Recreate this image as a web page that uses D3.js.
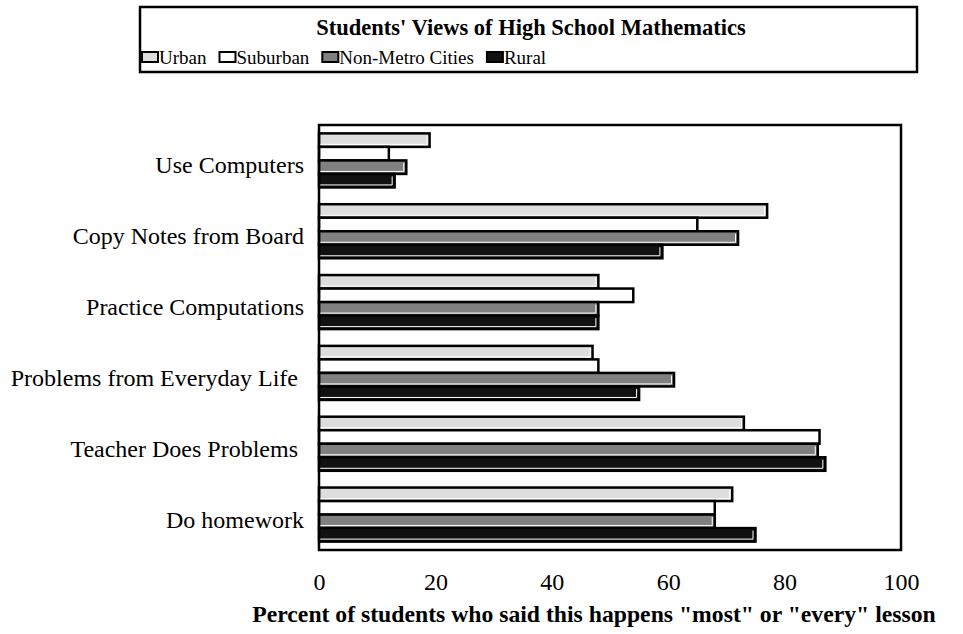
<!DOCTYPE html>
<html>
<head>
<meta charset="utf-8">
<script src="https://cdn.jsdelivr.net/npm/d3@7/dist/d3.min.js"></script>
<style>
  html, body { margin: 0; padding: 0; background: #fff; }
  svg { display: block; font-family: "Liberation Serif", "Times New Roman", serif; }
  text { white-space: pre; }
</style>
</head>
<body>
<svg id="chart" width="963" height="634"></svg>
<script>
const chartTitle = "Students' Views of High School Mathematics";
const axisTitle = 'Percent of students who said this happens "most" or "every" lesson';
const categories = ["Use Computers", "Copy Notes from Board", "Practice Computations",
  "Problems from Everyday Life ", "Teacher Does Problems ", "Do homework"];
const seriesNames = ["Urban", "Suburban", "Non-Metro Cities", "Rural"];
const urban    = [19, 77, 48, 47, 73, 71];
const suburban = [12, 65, 54, 48, 86, 68];
const nonMetro = [15, 72, 48, 61, 85.7, 68];
const rural    = [13, 59, 48, 55, 87, 75];
const tickValues = [0, 20, 40, 60, 80, 100];
const seriesColors = ["#dddddd", "#ffffff", "#808080", "#111111"];

const seriesValues = [urban, suburban, nonMetro, rural];
const svg = d3.select("#chart");

const plot = { left: 319, right: 901, top: 125, bottom: 550 };

const x = d3.scaleLinear().domain([0, 100]).range([plot.left, plot.right]);
const y0 = d3.scaleBand().domain(categories).range([plot.top, plot.bottom]).padding(0);
const y1 = d3.scaleBand().domain(seriesNames).range([0, y0.bandwidth()])
  .paddingInner(0).paddingOuter(0.62);

svg.append("rect")
  .attr("x", plot.left).attr("y", plot.top)
  .attr("width", plot.right - plot.left).attr("height", plot.bottom - plot.top)
  .attr("fill", "#fff");

const rows = [];
categories.forEach((c, i) => {
  seriesNames.forEach((s, j) => {
    rows.push({ cat: c, series: s, si: j, value: seriesValues[j][i] });
  });
});

const gBars = svg.append("g");
seriesNames.forEach((s, j) => {
  const data = rows.filter(d => d.si === j);
  const g = gBars.append("g");
  g.selectAll("rect").data(data).join("rect")
    .attr("x", x(0))
    .attr("y", d => y0(d.cat) + y1(d.series))
    .attr("width", d => x(d.value) - x(0))
    .attr("height", y1.bandwidth())
    .attr("fill", seriesColors[j])
    .attr("stroke", "#000")
    .attr("stroke-width", 2.5);
  g.selectAll("path").data(data).join("path")
    .attr("d", d => {
      const xr = x(d.value) - 2.5, yt = y0(d.cat) + y1(d.series) + 2.5,
            yb = y0(d.cat) + y1(d.series) + y1.bandwidth() - 2.5;
      return `M${x(0) + 1},${yb}H${xr}V${yt}`;
    })
    .attr("fill", "none")
    .attr("stroke", "#fff")
    .attr("stroke-width", 1);
});

svg.append("rect")
  .attr("x", plot.left).attr("y", plot.top)
  .attr("width", plot.right - plot.left).attr("height", plot.bottom - plot.top)
  .attr("fill", "none").attr("stroke", "#000").attr("stroke-width", 2.5);

svg.append("g").selectAll("text").data(categories).join("text")
  .attr("x", 304)
  .attr("y", d => y0(d) + y0.bandwidth() / 2 + 13)
  .attr("text-anchor", "end")
  .attr("font-size", 24)
  .attr("fill", "#000")
  .text(d => d);

const xAxis = d3.axisBottom(x).tickValues(tickValues).tickSize(0).tickPadding(0)
  .tickFormat(d3.format("d"));
const gx = svg.append("g").attr("transform", `translate(0,${plot.bottom})`).call(xAxis);
gx.select(".domain").remove();
gx.selectAll("text")
  .attr("font-family", "Liberation Serif, serif")
  .attr("font-size", 24)
  .attr("fill", "#000")
  .attr("dy", null)
  .attr("y", 40);

svg.append("text")
  .attr("x", 594).attr("y", 622)
  .attr("text-anchor", "middle")
  .attr("font-size", 23.7)
  .attr("font-weight", "bold")
  .text(axisTitle);

const lg = { left: 140, right: 917, top: 7, bottom: 72 };
svg.append("rect")
  .attr("x", lg.left).attr("y", lg.top)
  .attr("width", lg.right - lg.left).attr("height", lg.bottom - lg.top)
  .attr("fill", "#fff").attr("stroke", "#000").attr("stroke-width", 2.5);
svg.append("text")
  .attr("x", 531).attr("y", 35)
  .attr("text-anchor", "middle")
  .attr("font-size", 22.5)
  .attr("font-weight", "bold")
  .text(chartTitle);

let cx = 142;
seriesNames.forEach((s, j) => {
  svg.append("rect")
    .attr("x", cx).attr("y", 52).attr("width", 16).attr("height", 10)
    .attr("fill", seriesColors[j]).attr("stroke", "#000").attr("stroke-width", 2);
  const t = svg.append("text")
    .attr("x", cx + 17).attr("y", 64)
    .attr("font-size", 19)
    .text(s);
  cx += 17 + t.node().getComputedTextLength() + 13;
});
</script>
</body>
</html>
